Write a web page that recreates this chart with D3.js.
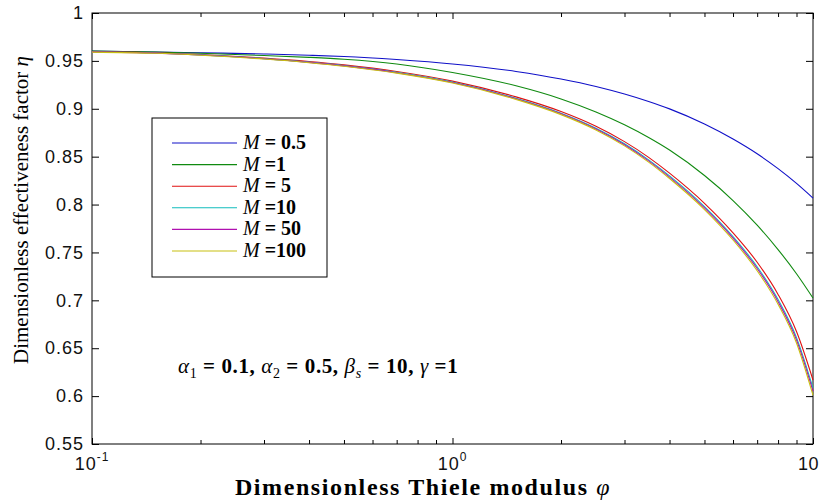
<!DOCTYPE html>
<html><head><meta charset="utf-8">
<script src="https://cdn.jsdelivr.net/npm/d3@7"></script>
<style>body{margin:0;background:#fff}svg{display:block}</style>
</head><body><svg id="c" width="821" height="501"></svg>
<script>
// ---- data ----
const phi = [0.1,0.15,0.2,0.3,0.4,0.5,0.7,1,1.5,2,2.5,3,3.5,4,5,6,7,8,9,10];
const etaM0_5 = [0.9603,0.9593,0.9585,0.9572,0.9559,0.9546,0.9514,0.9468,0.9390,0.9311,0.9233,0.9154,0.9076,0.8999,0.8841,0.8684,0.8530,0.8375,0.8221,0.8068];
const etaM1   = [0.9603,0.9591,0.9579,0.9556,0.9537,0.9517,0.9468,0.9379,0.9240,0.9103,0.8967,0.8833,0.8700,0.8569,0.8303,0.8042,0.7785,0.7530,0.7278,0.7024];
const etaM5   = [0.9598,0.9585,0.9567,0.9529,0.9493,0.9458,0.9390,0.9289,0.9124,0.8971,0.8817,0.8657,0.8493,0.8328,0.8013,0.7705,0.7398,0.7062,0.6674,0.6168];
const etaM10  = [0.9595,0.9582,0.9563,0.9524,0.9487,0.9451,0.9381,0.9279,0.9110,0.8954,0.8797,0.8634,0.8467,0.8299,0.7979,0.7665,0.7351,0.7008,0.6611,0.6084];
const etaM50  = [0.9594,0.9581,0.9561,0.9522,0.9484,0.9448,0.9377,0.9274,0.9105,0.8948,0.8789,0.8625,0.8456,0.8287,0.7965,0.7649,0.7332,0.6986,0.6586,0.6051];
const etaM100 = [0.9592,0.9579,0.9559,0.9519,0.9481,0.9444,0.9372,0.9269,0.9098,0.8939,0.8779,0.8613,0.8443,0.8272,0.7948,0.7630,0.7309,0.6959,0.6555,0.6009];
const seriesValues = [etaM0_5, etaM1, etaM5, etaM10, etaM50, etaM100];
const legendRest = ["= 0.5", "=1", "= 5", "=10", "= 50", "=100"];
const yTicks = [0.55,0.6,0.65,0.7,0.75,0.8,0.85,0.9,0.95,1];
const yTickLabels = ["0.55","0.6","0.65","0.7","0.75","0.8","0.85","0.9","0.95","1"];
const xMajor = [0.1, 1, 10];
const xMajorBase = ["10","10","10"];
const xMajorExp = ["-1","0",""];

// ---- styles ----
const colors = ["#1010c8","#108a10","#e01010","#10bcbc","#b010b0","#c8c010"];
const W = 821, H = 501;
const L = 92, R = 813, T = 13, B = 444;
const sans = "Liberation Sans, Arial, sans-serif";
const serif = "Liberation Serif, Times New Roman, serif";

const svg = d3.select("#c");
svg.append("rect").attr("width",W).attr("height",H).attr("fill","#fff");

const x = d3.scaleLog().domain([0.1,10]).range([L,R]);
const y = d3.scaleLinear().domain([0.55,1]).range([B,T]);

// axes (ticks inward)
const gy = svg.append("g").attr("transform",`translate(${L},0)`)
  .call(d3.axisLeft(y).tickValues(yTicks).tickSize(-7).tickPadding(8).tickFormat((d,i)=>yTickLabels[i]));
gy.select(".domain").remove();
gy.selectAll("text").attr("font-family",sans).attr("font-size",18).attr("letter-spacing",1).attr("fill","#111");
gy.selectAll("line").attr("stroke","#000");

const gyR = svg.append("g").attr("transform",`translate(${R},0)`)
  .call(d3.axisRight(y).tickValues(yTicks).tickSize(-7).tickFormat(""));
gyR.select(".domain").remove();
gyR.selectAll("line").attr("stroke","#000");

const minorX = [];
[0.1,1].forEach(b=>{for(let k=2;k<=9;k++) minorX.push(b*k);});

function xTicks(g, orient, vals, size){
  const ax = (orient==="bottom"? d3.axisBottom(x) : d3.axisTop(x)).tickValues(vals).tickSize(-size).tickFormat("");
  g.call(ax); g.select(".domain").remove(); g.selectAll("line").attr("stroke","#000");
}
xTicks(svg.append("g").attr("transform",`translate(0,${B})`),"bottom",xMajor,6);
xTicks(svg.append("g").attr("transform",`translate(0,${B})`),"bottom",minorX,4);
xTicks(svg.append("g").attr("transform",`translate(0,${T})`),"top",xMajor,6);
xTicks(svg.append("g").attr("transform",`translate(0,${T})`),"top",minorX,4);

// x tick labels with superscripts
xMajor.forEach((v,i)=>{
  const last = i === xMajor.length-1;
  const t = svg.append("text").attr("x", last ? W-2 : x(v)).attr("y",470)
    .attr("text-anchor", last ? "end" : "middle")
    .attr("font-family",sans).attr("font-size",18).attr("letter-spacing", last ? 0.5 : 1).attr("fill","#111");
  t.append("tspan").text(xMajorBase[i]);
  if(xMajorExp[i]) t.append("tspan").attr("dy",-9).attr("font-size",12).text(xMajorExp[i]);
});

// frame
svg.append("rect").attr("x",L).attr("y",T).attr("width",R-L).attr("height",B-T)
  .attr("fill","none").attr("stroke","#000").attr("stroke-width",1);

// lines
const line = d3.line().x((d,i)=>x(phi[i])).y(d=>y(d)).curve(d3.curveMonotoneX);
seriesValues.forEach((vals,i)=>{
  svg.append("path").datum(vals).attr("d",line).attr("fill","none")
    .attr("stroke",colors[i]).attr("stroke-width",1.1);
});

// legend
svg.append("rect").attr("x",152).attr("y",118).attr("width",175).attr("height",159)
  .attr("fill","#fff").attr("stroke","#000").attr("stroke-width",1);
legendRest.forEach((s,i)=>{
  const yy = 143 + i*21.6;
  svg.append("line").attr("x1",172).attr("x2",237).attr("y1",yy).attr("y2",yy)
    .attr("stroke",colors[i]).attr("stroke-width",1.1);
  const t = svg.append("text").attr("x",243).attr("y",yy+6)
    .attr("font-family",serif).attr("font-size",20).attr("fill","#000");
  t.append("tspan").attr("font-style","italic").text("M");
  t.append("tspan").attr("font-weight","bold").text(" " + s);
});

// annotation
const ann = svg.append("text").attr("x",178).attr("y",373)
  .attr("font-family",serif).attr("font-size",21).attr("letter-spacing",0.6).attr("fill","#000");
const parts = [
  ["α","italic","normal",0],["1","normal","normal",1],[" = ","normal","bold",0],["0.1","normal","bold",0],[", ","normal","bold",0],
  ["α","italic","normal",0],["2","normal","normal",1],[" = ","normal","bold",0],["0.5","normal","bold",0],[", ","normal","bold",0],
  ["β","italic","normal",0],["s","italic","normal",1],[" = ","normal","bold",0],["10","normal","bold",0],[", ","normal","bold",0],
  ["γ","italic","normal",0],[" =","normal","bold",0],["1","normal","bold",0]
];
let sub = false;
parts.forEach(p=>{
  const ts = ann.append("tspan").attr("font-style",p[1]).attr("font-weight",p[2]).text(p[0]);
  if(p[3]){ ts.attr("font-size",14); if(!sub){ ts.attr("dy",5); sub = true; } }
  else if(sub){ ts.attr("dy",-5); sub = false; }
});

// axis titles
const xl = svg.append("text").attr("x",423).attr("y",495).attr("text-anchor","middle")
  .attr("font-family",serif).attr("font-size",24).attr("letter-spacing",1.6).attr("fill","#000");
xl.append("tspan").attr("font-weight","bold").text("Dimensionless Thiele modulus ");
xl.append("tspan").attr("font-style","italic").text(" φ");

const yl = svg.append("text").attr("transform","translate(28,210) rotate(-90)").attr("text-anchor","middle")
  .attr("font-family",serif).attr("font-size",21).attr("fill","#000");
yl.append("tspan").text("Dimensionless effectiveness factor ");
yl.append("tspan").attr("font-style","italic").text("η");
</script></body></html>
